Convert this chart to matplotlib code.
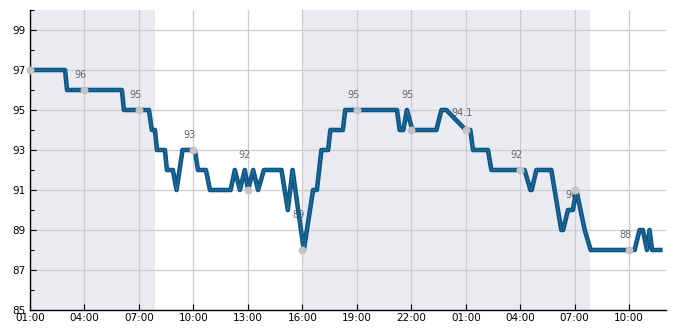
import numpy as np
import matplotlib
matplotlib.use('Agg')
import matplotlib.pyplot as plt
from matplotlib.ticker import MultipleLocator

# hours after 01:00 on day one, and the reading at that time
hours = [0.00, 1.93, 2.04, 5.06, 5.17, 6.55, 6.71, 6.88, 6.99, 7.43, 7.54, 7.87,
         8.07, 8.40, 9.08, 9.25, 9.69, 9.91, 11.05, 11.28, 11.56, 11.83, 12.01,
         12.29, 12.56, 12.88, 13.85, 14.20, 14.46, 15.08, 15.59, 15.80, 16.05,
         16.42, 16.54, 17.23, 17.36, 20.21, 20.36, 20.56, 20.76, 21.06, 22.38,
         22.66, 22.93, 24.00, 24.25, 24.40, 25.22, 25.41, 27.24, 27.56, 27.63,
         27.89, 28.71, 29.26, 29.36, 29.63, 29.90, 30.09, 30.55, 30.88, 33.30,
         33.57, 33.75, 33.98, 34.12, 34.26, 34.84]
values = [97, 97, 96, 96, 95, 95, 94, 94, 93, 93, 92, 92,
          91, 93, 93, 92, 92, 91, 91, 92, 91, 92, 91,
          92, 91, 92, 92, 90, 92, 88, 91, 91, 93,
          93, 94, 94, 95, 95, 94, 94, 95, 94, 94,
          95, 95, 94, 94, 93, 93, 92, 92, 91, 91,
          92, 92, 89, 89, 90, 90, 91, 89, 88, 88,
          89, 89, 88, 89, 88, 88]

# 3-hourly reference points and their labels
mark_hours = [0, 3, 6, 9, 12, 15, 18, 21, 24, 27, 30, 33]
mark_values = [97, 96, 95, 93, 91, 88, 95, 94, 94, 92, 91, 88]
label_values = [None, 96, 95, 93, 92, 89, 95, 95, 94.1, 92, 90, 88]

# shaded periods (hours)
shade_spans = [(0, 6.88), (15.0, 30.82)]

tick_hours = list(range(0, 35, 3))
tick_labels = ['01:00', '04:00', '07:00', '10:00', '13:00', '16:00', '19:00',
               '22:00', '01:00', '04:00', '07:00', '10:00']

fig = plt.figure(figsize=(6.85, 3.3), dpi=100)
ax = fig.add_axes([30 / 685, 20 / 330, 635.5 / 685, 300 / 330])

for a, b in shade_spans:
    ax.axvspan(a, b, color='#eaebf1', lw=0, zorder=0)

ax.plot(hours, values, color='#0b5788', lw=3.3, solid_joinstyle='round',
        solid_capstyle='butt', zorder=3)
ax.plot(hours, values, color='#dce6ee', lw=0.5, ls=(0, (0.6, 2.2)), zorder=3.5)

ax.scatter(mark_hours, mark_values, s=22, color='#c4c4c4', zorder=4, clip_on=False)
for h, lab in zip(mark_hours, label_values):
    if lab is None:
        continue
    ax.annotate(f'{lab:g}', (h, lab), xytext=(-2.5, 11), textcoords='offset points',
                ha='center', va='center', fontsize=7, color='#666666', zorder=2)

ax.set_xlim(0, 35)
ax.set_ylim(85, 100)
ax.set_xticks(tick_hours)
ax.set_xticklabels(tick_labels)
ax.yaxis.set_major_locator(MultipleLocator(2, offset=1))
ax.yaxis.set_minor_locator(MultipleLocator(1))

ax.grid(True, which='major', color='#cccccc', lw=0.9, zorder=1)
ax.set_axisbelow(True)
ax.tick_params(which='major', direction='in', length=4, width=0.8, labelsize=7.5, pad=3)
ax.tick_params(which='minor', direction='in', length=3, width=0.8)
ax.tick_params(axis='x', pad=2)
for s in ['top', 'right']:
    ax.spines[s].set_visible(False)
for s in ['left', 'bottom']:
    ax.spines[s].set_linewidth(1.0)

fig.savefig('out.png', dpi=100)
